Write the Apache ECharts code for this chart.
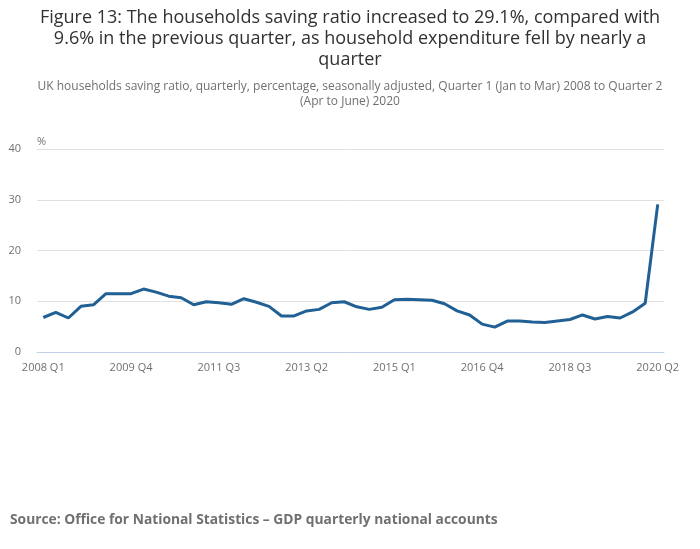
<!DOCTYPE html>
<html>
<head>
<meta charset="utf-8">
<script src="https://cdn.jsdelivr.net/npm/echarts@6/dist/echarts.min.js"></script>
<style>
	html, body { margin: 0; padding: 0; background: #fff; }
	#chart { width: 700px; height: 549px; }
</style>
</head>
<body>
<div id="chart"></div>
<script>
var quarters = [
	'2008 Q1', '2008 Q2', '2008 Q3', '2008 Q4',
	'2009 Q1', '2009 Q2', '2009 Q3', '2009 Q4',
	'2010 Q1', '2010 Q2', '2010 Q3', '2010 Q4',
	'2011 Q1', '2011 Q2', '2011 Q3', '2011 Q4',
	'2012 Q1', '2012 Q2', '2012 Q3', '2012 Q4',
	'2013 Q1', '2013 Q2', '2013 Q3', '2013 Q4',
	'2014 Q1', '2014 Q2', '2014 Q3', '2014 Q4',
	'2015 Q1', '2015 Q2', '2015 Q3', '2015 Q4',
	'2016 Q1', '2016 Q2', '2016 Q3', '2016 Q4',
	'2017 Q1', '2017 Q2', '2017 Q3', '2017 Q4',
	'2018 Q1', '2018 Q2', '2018 Q3', '2018 Q4',
	'2019 Q1', '2019 Q2', '2019 Q3', '2019 Q4',
	'2020 Q1', '2020 Q2'
];
var savingRatio = [
	6.8, 7.8, 6.7, 9.0,
	9.3, 11.5, 11.5, 11.5,
	12.4, 11.8, 11.0, 10.7,
	9.3, 9.9, 9.7, 9.4,
	10.5, 9.8, 9.0, 7.1,
	7.1, 8.1, 8.4, 9.7,
	9.9, 8.9, 8.4, 8.8,
	10.3, 10.4, 10.3, 10.2,
	9.5, 8.1, 7.3, 5.5,
	4.9, 6.1, 6.1, 5.9,
	5.8, 6.1, 6.4, 7.3,
	6.5, 7.0, 6.7, 7.9,
	9.6, 29.1
];
var yTicks = [0, 10, 20, 30, 40];

var titleText = 'Figure 13: The households saving ratio increased to 29.1%, compared with\n9.6% in the previous quarter, as household expenditure fell by nearly a\nquarter';
var subText = 'UK households saving ratio, quarterly, percentage, seasonally adjusted, Quarter 1 (Jan to Mar) 2008 to Quarter 2\n(Apr to June) 2020';
var sourceText = 'Source: Office for National Statistics \u2013 GDP quarterly national accounts';

var chart = echarts.init(document.getElementById('chart'));
var font = '"Open Sans", sans-serif';

chart.setOption({
	animation: false,
	textStyle: { fontFamily: font },
	graphic: [{
		type: 'text',
		x: 350,
		y: 7,
		style: {
			text: titleText, textAlign: 'center', textVerticalAlign: 'top',
			font: '18px ' + font, fill: '#323132', lineHeight: 21
		}
	}, {
		type: 'text',
		x: 350,
		y: 79,
		style: {
			text: subText, textAlign: 'center', textVerticalAlign: 'top',
			font: '12px ' + font, fill: '#707071', lineHeight: 15
		}
	}, {
		type: 'text',
		left: 37,
		top: 136,
		style: { text: '%', font: '11px ' + font, fill: '#707071' }
	}, {
		type: 'text',
		left: 10,
		top: 513,
		style: { text: sourceText, font: 'bold 13.8px ' + font, fill: '#707071' }
	}],
	grid: { left: 37, right: 36, top: 149, bottom: 197, containLabel: false },
	xAxis: {
		type: 'category',
		data: quarters,
		boundaryGap: true,
		axisLine: { lineStyle: { color: '#bfd0e8', width: 1 } },
		axisTick: { alignWithLabel: true, interval: 6, length: 7, lineStyle: { color: '#bfd0e8' } },
		axisLabel: { interval: 6, color: '#707071', fontSize: 11, margin: 10, fontFamily: font }
	},
	yAxis: {
		type: 'value',
		min: yTicks[0],
		max: yTicks[yTicks.length - 1],
		interval: 10,
		axisLine: { show: false },
		axisTick: { show: false },
		axisLabel: { color: '#707071', fontSize: 11, margin: 16, fontFamily: font },
		splitLine: { lineStyle: { color: '#e0e0e0', width: 1 } }
	},
	series: [{
		type: 'line',
		data: savingRatio,
		symbol: 'none',
		lineStyle: { color: '#206095', width: 3 },
		itemStyle: { color: '#206095' }
	}]
});
</script>
</body>
</html>
